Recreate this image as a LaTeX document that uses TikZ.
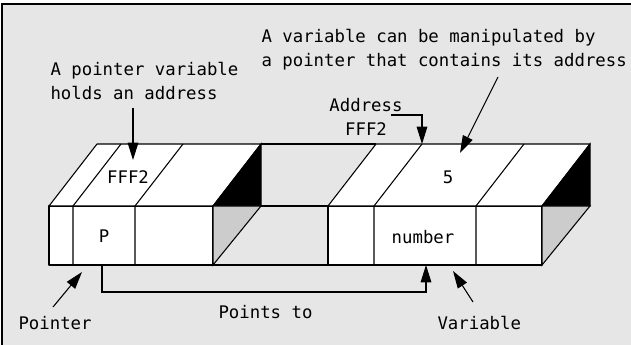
\documentclass[tikz,border=0pt]{standalone}
\usepackage{fontspec}
\setmonofont{DejaVu Sans Mono}
\usetikzlibrary{positioning, arrows.meta}
\definecolor{panel}{HTML}{E6E6E6}
\definecolor{shade}{HTML}{CCCCCC}
\begin{document}
\begin{tikzpicture}[x=0.75pt, y=-0.75pt, line width=0.8pt,
    >={Triangle[width=8pt,length=13pt]},
    lbl/.style={font=\fontsize{13}{18}\selectfont\ttfamily, inner sep=0pt},
    face/.style={draw, fill=white, line join=round}]
  % background and frame
  \useasboundingbox (0,0) rectangle (631,345);
  \fill[white] (0,0) rectangle (631,345);
  \fill[panel] (2,4) rectangle (631,345);
  \draw (2,345) -- (2,4) -- (631,4);
  % strip between the two blocks
  \draw (261,144) -- (376,144);
  \draw (261,206) -- (328,206);
  \draw (213,265) -- (328,265);
  % left block
  \draw[face] (49,206) rectangle (213,265);
  \draw[face] (49,206) -- (97,144) -- (261,144) -- (213,206) -- cycle;
  \filldraw[fill=black] (213,206) -- (261,144) -- (261,206) -- cycle;
  \filldraw[fill=shade] (213,206) -- (261,206) -- (213,265) -- cycle;
  \draw (73,265) -- (73,206) -- (121,144);
  \draw (135,265) -- (135,206) -- (183,144);
  % right block
  \draw[face] (328,206) rectangle (542,265);
  \draw[face] (328,206) -- (376,144) -- (590,144) -- (542,206) -- cycle;
  \filldraw[fill=black] (542,206) -- (590,144) -- (590,206) -- cycle;
  \filldraw[fill=shade] (542,206) -- (590,206) -- (542,265) -- cycle;
  \draw (374,265) -- (374,206) -- (422,144);
  \draw (476,265) -- (476,206) -- (524,144);
  % cell contents
  \node[lbl] (fff) at (128,177) {FFF2};
  \node[lbl] (p) at (104,236) {P};
  \node[lbl] (five) at (448,177) {5};
  \node[lbl] (num) at (423,237) {number};
  % labels
  \node[lbl, align=left, anchor=north west] (ptrvar) at (50,62)
        {A pointer variable\\holds an address};
  \node[lbl, align=left, anchor=north west] (varaddr) at (261,29)
        {A variable can be manipulated by\\a pointer that contains its address};
  \node[lbl, align=center, anchor=north] (addr) at (366,98) {Address\\FFF2};
  \node[lbl, anchor=base west] (ptr) at (18,329) {Pointer};
  \node[lbl, anchor=base west] (pto) at (218,318) {Points to};
  \node[lbl, anchor=base west] (var) at (437,329) {Variable};
  % connector ends
  \coordinate (ptrtop) at (133,108);
  \coordinate (ptrcell) at (133,160);
  \coordinate (vartop) at (498,77);
  \coordinate (varcell) at (460,153);
  \coordinate (addrbend) at (391,115);
  \coordinate (addrcell) at (422,144);
  \coordinate (pfoot) at (102,265);
  \coordinate (nfoot) at (426,265);
  \coordinate (ptrtail) at (53,307);
  \coordinate (ptrhead) at (82,272);
  \coordinate (vartail) at (473,302);
  \coordinate (varhead) at (453,271);
  % arrows
  \draw[->] (ptrtop) -- (ptrcell);
  \draw[->] (vartop) -- (varcell);
  \draw[->] (addrbend) -| (addrcell);
  \draw[->] (pfoot) -- ++(0,27) -| (nfoot);
  \draw[->] (ptrtail) -- (ptrhead);
  \draw[->] (vartail) -- (varhead);
\end{tikzpicture}
\end{document}
